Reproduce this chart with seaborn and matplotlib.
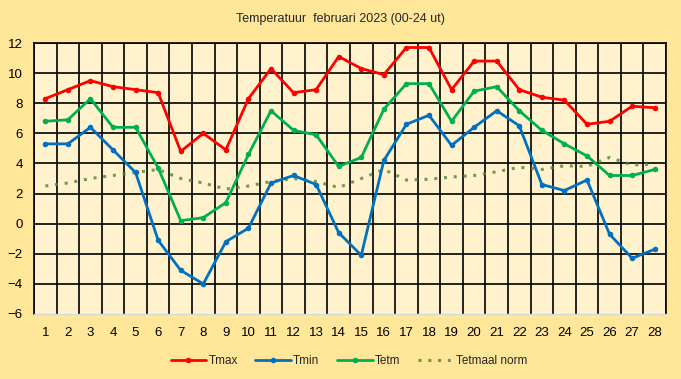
import numpy as np
import pandas as pd
import matplotlib
matplotlib.use("Agg")
import matplotlib.pyplot as plt
import seaborn as sns

# data
dagen = list(range(1, 29))
tmax = [8.3, 8.9, 9.5, 9.1, 8.9, 8.7, 4.8, 6.0, 4.9, 8.3, 10.3, 8.7, 8.9, 11.1,
        10.3, 9.9, 11.7, 11.7, 8.9, 10.8, 10.8, 8.9, 8.4, 8.2, 6.6, 6.8, 7.8, 7.7]
tmin = [5.3, 5.3, 6.4, 4.9, 3.4, -1.1, -3.1, -4.0, -1.2, -0.3, 2.7, 3.2, 2.6, -0.6,
        -2.1, 4.2, 6.6, 7.2, 5.2, 6.4, 7.5, 6.5, 2.6, 2.2, 2.9, -0.7, -2.3, -1.7]
tetm = [6.8, 6.9, 8.3, 6.4, 6.4, 3.7, 0.2, 0.4, 1.4, 4.6, 7.5, 6.2, 5.9, 3.8,
        4.4, 7.6, 9.3, 9.3, 6.8, 8.8, 9.1, 7.5, 6.2, 5.3, 4.5, 3.2, 3.2, 3.6]
tnorm = [2.5, 2.7, 3.0, 3.2, 3.4, 3.6, 3.0, 2.7, 2.3, 2.5, 2.8, 3.0, 2.8, 2.4,
         3.0, 3.6, 2.9, 2.95, 3.1, 3.2, 3.45, 3.75, 3.6, 3.85, 3.8, 4.4, 3.9, 3.95]

df = pd.DataFrame({"dag": dagen, "Tmax": tmax, "Tmin": tmin,
                   "Tetm": tetm, "Tetmaal norm": tnorm})

sns.set_style("white")
plt.rcParams["font.family"] = ["Liberation Sans", "DejaVu Sans"]

fig = plt.figure(figsize=(6.81, 3.79), dpi=100, facecolor="#FFE699")
ax = fig.add_axes([34 / 681, 1 - 314 / 379, 632 / 681, 271 / 379])
ax.set_facecolor("#FFF2CC")

# grid lines on category boundaries
for xb in np.arange(0.5, 29.0, 1.0):
    ax.axvline(xb, color="black", lw=1.2, zorder=1)
for yb in range(-4, 13, 2):
    ax.axhline(yb, color="black", lw=1.2, zorder=1)

sns.lineplot(data=df, x="dag", y="Tetmaal norm", ax=ax, color="#548235",
             lw=2.2, linestyle=(0, (1, 2.2)), alpha=0.8, label="Tetmaal norm", zorder=3)
sns.lineplot(data=df, x="dag", y="Tmax", ax=ax, color="#FF0000", lw=2,
             marker="o", markersize=4, markeredgewidth=0, label="Tmax", zorder=4)
sns.lineplot(data=df, x="dag", y="Tmin", ax=ax, color="#0070C0", lw=2,
             marker="o", markersize=4, markeredgewidth=0, label="Tmin", zorder=4)
sns.lineplot(data=df, x="dag", y="Tetm", ax=ax, color="#00B050", lw=2,
             marker="o", markersize=4, markeredgewidth=0, label="Tetm", zorder=4)

ax.set_xlim(0.5, 28.5)
ax.set_ylim(-6, 12)
ax.set_xticks(dagen)
ax.set_yticks(range(-6, 13, 2))
ax.set_xlabel("")
ax.set_ylabel("")
ax.tick_params(axis="both", length=0, labelsize=9.5, colors="black")
ax.tick_params(axis="x", pad=9)
ax.tick_params(axis="y", pad=8)
for s in ["top", "right", "left"]:
    ax.spines[s].set_color("black")
    ax.spines[s].set_linewidth(1.2)
ax.spines["bottom"].set_color("#D9D9D9")
ax.spines["bottom"].set_linewidth(1)

h, l = ax.get_legend_handles_labels()
order = [l.index(n) for n in ["Tmax", "Tmin", "Tetm", "Tetmaal norm"]]
ax.legend_.remove()
fig.legend([h[i] for i in order], [l[i] for i in order], loc="center",
           bbox_to_anchor=(349 / 681, 1 - 361 / 379), ncol=4, frameon=False,
           fontsize=8.5, handlelength=3.0, columnspacing=1.5, handletextpad=0.2)

fig.text(0.5, 1 - 19 / 379, "Temperatuur  februari 2023 (00-24 ut)",
         ha="center", va="center", fontsize=9)

fig.savefig("out.png", dpi=100, facecolor=fig.get_facecolor())
